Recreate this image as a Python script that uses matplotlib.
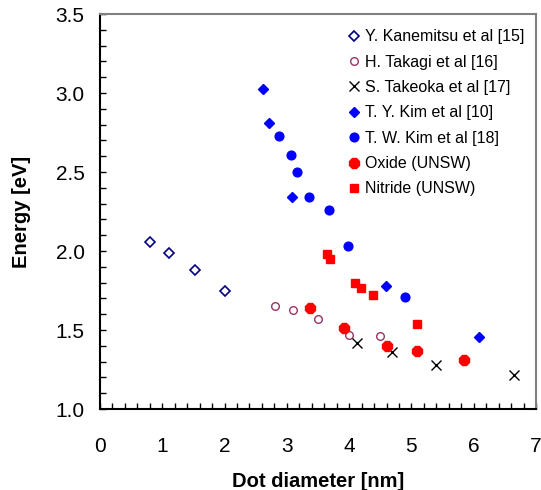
import matplotlib.pyplot as plt
from matplotlib.ticker import MultipleLocator

plt.rcParams["font.family"] = ["Liberation Sans", "DejaVu Sans"]

# Y. Kanemitsu et al [15]
kanemitsu_x = [0.81, 1.11, 1.53, 2.0]
kanemitsu_y = [2.055, 1.99, 1.88, 1.75]
# H. Takagi et al [16]
takagi_x = [2.81, 3.10, 3.50, 4.0, 4.50]
takagi_y = [1.652, 1.627, 1.572, 1.47, 1.462]
# S. Takeoka et al [17]
takeoka_x = [4.13, 4.69, 5.39, 6.65]
takeoka_y = [1.42, 1.36, 1.28, 1.217]
# T. Y. Kim et al [10]
tykim_x = [2.61, 2.71, 3.08, 4.59, 6.09]
tykim_y = [3.025, 2.81, 2.344, 1.777, 1.458]
# T. W. Kim et al [18]
twkim_x = [2.87, 3.06, 3.16, 3.35, 3.67, 3.98, 4.89]
twkim_y = [2.726, 2.61, 2.50, 2.34, 2.26, 2.03, 1.71]
# Oxide (UNSW)
oxide_x = [3.37, 3.91, 4.61, 5.09, 5.85]
oxide_y = [1.64, 1.51, 1.40, 1.37, 1.31]
# Nitride (UNSW)
nitride_x = [3.64, 3.70, 4.09, 4.19, 4.39, 5.09]
nitride_y = [1.983, 1.951, 1.796, 1.768, 1.72, 1.54]

fig = plt.figure(figsize=(5.41, 4.90), dpi=100)
ax = fig.add_axes([0.1848, 0.1653, 0.806, 0.806])

ax.plot(kanemitsu_x, kanemitsu_y, "D", ls="none", ms=5, mfc="none", mec="#000080",
        mew=1.2, label="Y. Kanemitsu et al [15]")
ax.plot(takagi_x, takagi_y, "o", ls="none", ms=5.5, mfc="none", mec="#993366",
        mew=1.0, label="H. Takagi et al [16]")
ax.plot(takeoka_x, takeoka_y, "x", ls="none", ms=6.5, color="black",
        mew=1.0, label="S. Takeoka et al [17]")
ax.plot(tykim_x, tykim_y, "D", ls="none", ms=5.5, color="#0000ff",
        label="T. Y. Kim et al [10]")
ax.plot(twkim_x, twkim_y, "o", ls="none", ms=6.3, color="#0000ff",
        label="T. W. Kim et al [18]")
ax.plot(oxide_x, oxide_y, "8", ls="none", ms=7.8, color="#ff0000",
        label="Oxide (UNSW)")
ax.plot(nitride_x, nitride_y, "s", ls="none", ms=6, color="#ff0000",
        label="Nitride (UNSW)")

ax.set_xlim(0, 7)
ax.set_ylim(1.0, 3.5)
ax.xaxis.set_major_locator(MultipleLocator(1))
ax.xaxis.set_minor_locator(MultipleLocator(0.2))
ax.yaxis.set_major_locator(MultipleLocator(0.5))
ax.yaxis.set_minor_locator(MultipleLocator(0.1))
ax.tick_params(which="both", direction="in", length=4, width=1,
               labelsize=15, top=False, right=False)
ax.tick_params(axis="x", pad=20)
ax.tick_params(axis="y", pad=11)
ax.set_yticklabels([f"{v:.1f}" for v in ax.get_yticks()])

ax.set_xlabel("Dot diameter [nm]", fontsize=14.5, fontweight="bold", labelpad=12)
ax.set_ylabel("Energy [eV]", fontsize=14.5, fontweight="bold", labelpad=18)

for side in ["left", "bottom"]:
    ax.spines[side].set_linewidth(1.5)
    ax.spines[side].set_color("black")
for side in ["top", "right"]:
    ax.spines[side].set_linewidth(1.5)
    ax.spines[side].set_color("#808080")

ax.legend(loc="upper right", frameon=False, fontsize=11.5, handletextpad=0.2,
          labelspacing=0.65, handlelength=1.0, borderaxespad=0.3,
          bbox_to_anchor=(1.0, 0.99))

fig.savefig("out.png", dpi=100)
